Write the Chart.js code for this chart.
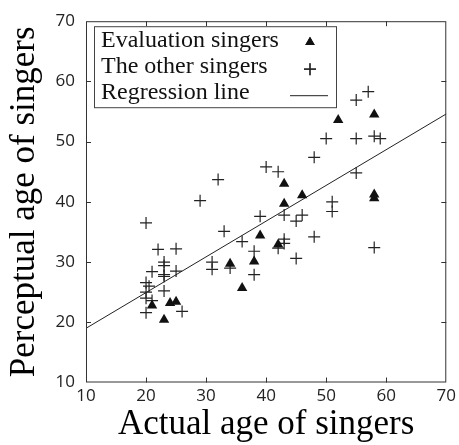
<!DOCTYPE html>
<html>
<head>
<meta charset="utf-8">
<script src="https://cdn.jsdelivr.net/npm/chart.js@4/dist/chart.umd.min.js"></script>
<style>
  html, body { margin: 0; padding: 0; background: #fff; }
  #wrap { width: 459px; height: 445px; }
</style>
</head>
<body>
<div id="wrap"><canvas id="c" width="459" height="445"></canvas></div>
<script>
// evaluation singers (triangles)
const evalX = [21, 23, 24, 25, 34, 36, 38, 39, 42, 43, 43, 46, 52, 58, 58, 58];
const evalY = [22.8, 20.4, 23.2, 23.4, 29.7, 25.7, 30.1, 34.4, 32.9, 39.7, 43.0, 41.1, 53.6, 54.5, 41.2, 40.6];

// the other singers (crosses)
const otherX = [20, 22, 25, 23, 23, 23, 23, 21, 25, 20, 20.5, 20, 23, 20, 21, 20, 26,
  29, 32, 33, 31, 31, 34, 36, 38, 38, 39, 40, 42, 42, 43, 43, 43, 45, 46, 45,
  48, 48, 50, 51, 51, 55, 55, 55, 57, 58, 59, 58];
const otherY = [36.5, 32.1, 32.2, 30, 29.4, 27.9, 27.6, 28.4, 28.5, 26.6, 26, 25, 25.2, 24, 23.6, 21.6, 21.8,
  40.2, 43.7, 35.1, 30, 28.8, 29, 33.4, 31.8, 27.9, 37.6, 45.8, 45, 32.3, 37.8, 33.8, 33.1, 36.8, 37.8, 30.6,
  34.2, 47.4, 50.5, 40, 38.4, 50.5, 56.9, 44.8, 58.3, 50.9, 50.5, 32.4];

// regression line end points
const regX = [10, 70];
const regY = [19, 54.6];

const tickVals = [10, 20, 30, 40, 50, 60, 70];

const legendItems = ['Evaluation singers', 'The other singers', 'Regression line'];

const toPts = (xs, ys) => xs.map((x, i) => ({ x, y: ys[i] }));

// box round the plot + inward tick marks on all four sides
const frame = {
  id: 'frame',
  afterDatasetsDraw(chart) {
    const { ctx, chartArea: a, scales } = chart;
    ctx.save();
    ctx.strokeStyle = '#333';
    ctx.lineWidth = 1;
    ctx.strokeRect(a.left + 0.5, a.top + 0.5, a.right - a.left - 1, a.bottom - a.top - 1);
    const len = 5;
    ctx.beginPath();
    tickVals.slice(1, -1).forEach(v => {
      const px = Math.round(scales.x.getPixelForValue(v)) + 0.5;
      ctx.moveTo(px, a.bottom); ctx.lineTo(px, a.bottom - len);
      ctx.moveTo(px, a.top); ctx.lineTo(px, a.top + len);
      const py = Math.round(scales.y.getPixelForValue(v)) + 0.5;
      ctx.moveTo(a.left, py); ctx.lineTo(a.left + len, py);
      ctx.moveTo(a.right, py); ctx.lineTo(a.right - len, py);
    });
    ctx.stroke();
    ctx.restore();
  }
};

// legend: text on the left, symbol on the right, inside a box
const boxLegend = {
  id: 'boxLegend',
  afterDraw(chart) {
    const { ctx, chartArea: a } = chart;
    const x0 = a.left + 8, y0 = a.top + 5, w = 242, h = 81;
    ctx.save();
    ctx.fillStyle = '#fff';
    ctx.fillRect(x0, y0, w, h);
    ctx.strokeStyle = '#444';
    ctx.lineWidth = 1;
    ctx.strokeRect(x0 + 0.5, y0 + 0.5, w, h);
    ctx.fillStyle = '#111';
    ctx.font = '24px "Liberation Serif", "Times New Roman", serif';
    ctx.textBaseline = 'alphabetic';
    legendItems.forEach((t, i) => ctx.fillText(t, x0 + 7, y0 + 21 + i * 26));
    const sx = x0 + 216;
    Chart.helpers.drawPoint(ctx, { pointStyle: 'triangle', radius: 5.5, rotation: 0, borderWidth: 0 }, sx, y0 + 16);
    ctx.fillStyle = '#111';
    ctx.fill();
    ctx.strokeStyle = '#222';
    ctx.lineWidth = 1.2;
    Chart.helpers.drawPoint(ctx, { pointStyle: 'cross', radius: 6, rotation: 0, borderWidth: 1.2 }, sx, y0 + 43);
    ctx.stroke();
    ctx.beginPath();
    ctx.lineWidth = 1;
    ctx.moveTo(sx - 20, y0 + 69.5); ctx.lineTo(sx + 18, y0 + 69.5);
    ctx.stroke();
    ctx.restore();
  }
};

const tickFont = { family: '"Open Sans", sans-serif', size: 17 };
const titleFont = { family: '"Liberation Serif", "Times New Roman", serif', size: 35 };

new Chart(document.getElementById('c'), {
  type: 'scatter',
  data: {
    datasets: [
      {
        type: 'line', data: toPts(regX, regY),
        borderColor: '#222', borderWidth: 1, pointRadius: 0, fill: false, order: 3
      },
      {
        data: toPts(otherX, otherY),
        pointStyle: 'cross', pointRadius: 6, borderColor: '#222', borderWidth: 1.2, order: 2
      },
      {
        data: toPts(evalX, evalY),
        pointStyle: 'triangle', pointRadius: 6, backgroundColor: '#111', borderColor: '#111', borderWidth: 0, order: 1
      }
    ]
  },
  options: {
    responsive: false,
    animation: false,
    layout: { padding: { top: 19, right: 10, left: 0, bottom: 0 } },
    plugins: { legend: { display: false }, tooltip: { enabled: false } },
    scales: {
      x: {
        type: 'linear', min: 10, max: 70,
        afterBuildTicks: s => { s.ticks = tickVals.map(v => ({ value: v })); },
        afterFit: s => { s.height = 62.5; },
        grid: { display: false, drawTicks: false, tickLength: 0 },
        border: { display: false },
        ticks: { color: '#222', font: tickFont, padding: 3, maxRotation: 0 },
        title: { display: true, text: 'Actual age of singers', color: '#000', font: { ...titleFont, lineHeight: 1.14 }, padding: 0 }
      },
      y: {
        type: 'linear', min: 10, max: 70,
        afterBuildTicks: s => { s.ticks = tickVals.map(v => ({ value: v })); },
        afterFit: s => { s.width = 86; },
        grid: { display: false, drawTicks: false, tickLength: 0 },
        border: { display: false },
        ticks: { color: '#222', font: tickFont, padding: 11 },
        title: { display: true, text: 'Perceptual age of singers', color: '#000', font: { ...titleFont, lineHeight: 1.43 }, padding: 0 }
      }
    }
  },
  plugins: [frame, boxLegend]
});
</script>
</body>
</html>
